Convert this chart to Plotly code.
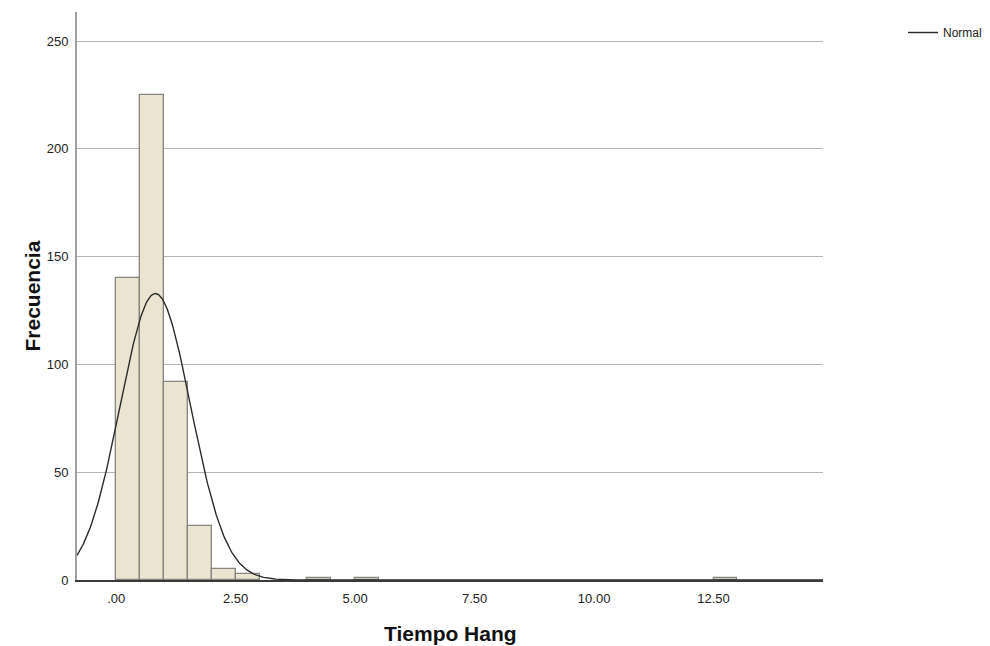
import numpy as np
import plotly.graph_objects as go

# Histogram data (bin width 0.5)
bin_starts = [0.0, 0.5, 1.0, 1.5, 2.0, 2.5, 4.0, 5.0, 12.5]
counts = [140, 225, 92, 25, 5, 3, 1, 1, 1]
bin_width = 0.5

# Normal curve parameters
normal_mean = 0.82
normal_sd = 0.74

x_tick_vals = [0, 2.5, 5, 7.5, 10, 12.5]
x_tick_text = [".00", "2.50", "5.00", "7.50", "10.00", "12.50"]
y_tick_vals = [0, 50, 100, 150, 200, 250]

n_total = sum(counts)
centers = [s + bin_width / 2 for s in bin_starts]

x_min, x_max = -0.82, 14.79
xc = np.linspace(x_min, x_max, 800)
yc = n_total * bin_width * np.exp(-0.5 * ((xc - normal_mean) / normal_sd) ** 2) / (normal_sd * np.sqrt(2 * np.pi))

fig = go.Figure()
fig.add_trace(go.Bar(
    x=centers, y=counts, width=bin_width,
    marker=dict(color="#EAE4D0", line=dict(color="#85857E", width=1.3)),
    showlegend=False, hoverinfo="x+y"
))
fig.add_trace(go.Scatter(
    x=xc, y=yc, mode="lines", name="Normal",
    line=dict(color="#2A2A2A", width=1.4)
))

fig.update_layout(
    width=990, height=646, autosize=False,
    margin=dict(l=77, r=167, t=12, b=66, autoexpand=False),
    paper_bgcolor="white", plot_bgcolor="white",
    font=dict(family="Liberation Sans, Arial, sans-serif", size=13, color="#222222"),
    bargap=0,
    legend=dict(xref="container", yref="container", x=903 / 990, y=1 - 18 / 646,
                xanchor="left", yanchor="top",
                font=dict(size=12, color="#222222"), bgcolor="rgba(0,0,0,0)",
                itemwidth=30, tracegroupgap=0),
    annotations=[
        dict(text="<b>Frecuencia</b>", x=(18 - 77) / 746, y=0.5, xref="paper", yref="paper",
             showarrow=False, textangle=-90, font=dict(size=21, color="#111111")),
        dict(text="<b>Tiempo Hang</b>", x=0.5, y=-(633 - 580) / 568, xref="paper", yref="paper",
             showarrow=False, yanchor="middle", font=dict(size=21, color="#111111")),
    ],
)

fig.update_xaxes(
    range=[x_min, x_max], tickvals=x_tick_vals, ticktext=x_tick_text,
    showgrid=False, zeroline=False, showline=True, linecolor="#3A3A3A", linewidth=1.5,
    ticks="outside", ticklen=6, tickcolor="rgba(0,0,0,0)",
    tickfont=dict(size=13, color="#222222")
)
fig.update_yaxes(
    range=[0, 263.5], tickvals=y_tick_vals,
    showgrid=True, gridcolor="#B4B4B4", gridwidth=1, zeroline=False,
    showline=True, linecolor="#A0A0A0", linewidth=2,
    ticks="outside", ticklen=4, tickcolor="rgba(0,0,0,0)",
    tickfont=dict(size=13, color="#222222")
)

fig.write_html(
    "out.html",
    config={"responsive": False, "displayModeBar": False},
    post_script=(
        "document.body.style.margin='0';document.body.style.overflow='hidden';"
        "var gd=document.getElementById('{plot_id}');"
        "Plotly.relayout(gd,{width:990,height:646});"
    ),
)
